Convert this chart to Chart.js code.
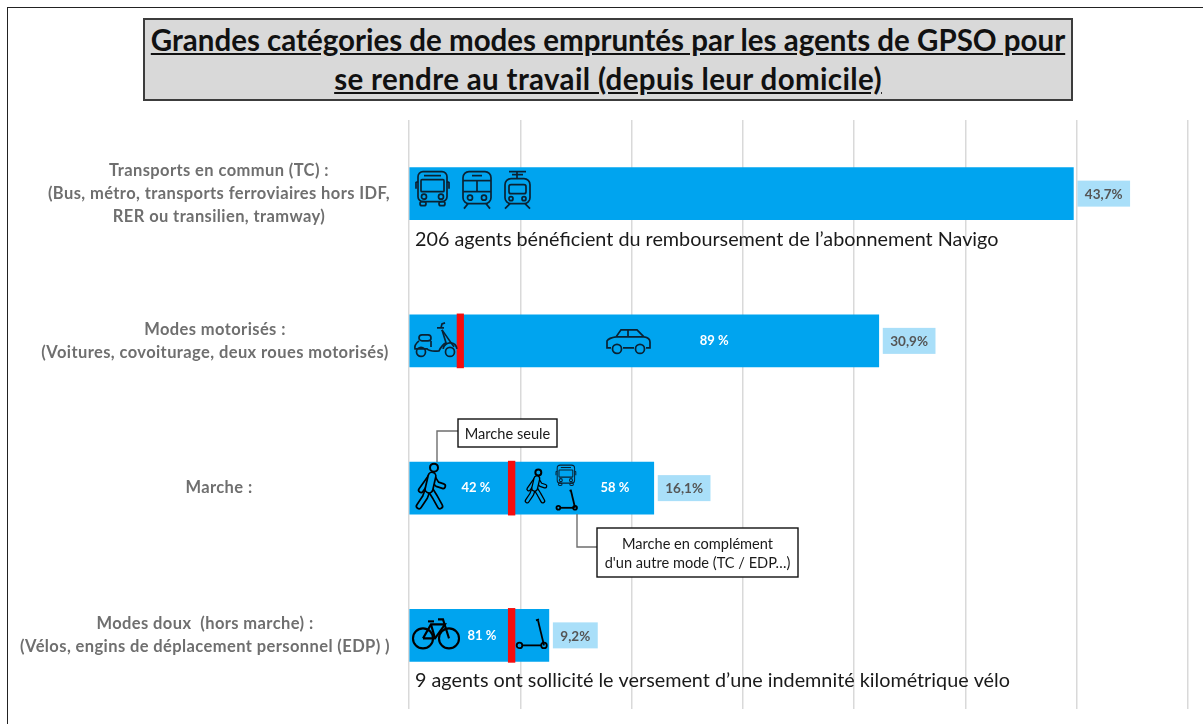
<!DOCTYPE html>
<html lang="fr">
<head>
<meta charset="utf-8">
<title>Modes empruntés par les agents de GPSO</title>
<script src="https://cdn.jsdelivr.net/npm/chart.js@4"></script>
<style>
	html, body { margin: 0; padding: 0; background: #fff; overflow: hidden; }
	#wrap { position: relative; width: 1203px; height: 724px; }
	#myChart { position: absolute; left: 0; top: 0; }
	#frame { position: absolute; left: 7px; top: 7px; width: 1300px; height: 800px; border: 1px solid #222; }
	#title {
		position: absolute; left: 143px; top: 18px; width: 926px; height: 79px;
		background: #d9d9d9; border: 2px solid #3c3c3c; color: #111;
		font: bold 29.5px/39px Lato, sans-serif; text-align: center; text-decoration: underline;
		white-space: nowrap;
	}
	#title span { letter-spacing: 0.35px; }
</style>
</head>
<body>
<div id="wrap">
	<canvas id="myChart" width="1203" height="724"></canvas>
	<div id="frame"></div>
	<div id="title">Grandes catégories de modes empruntés par les agents de GPSO pour<br><span>se rendre au travail (depuis leur domicile)</span></div>
</div>
<script>
const categories = [
	["Transports en commun (TC) :", "(Bus, métro, transports ferroviaires hors IDF,", "RER ou transilien, tramway)"],
	["Modes motorisés :", "(Voitures, covoiturage, deux roues motorisés)"],
	["Marche :"],
	["Modes doux  (hors marche) :", "(Vélos, engins de déplacement personnel (EDP) )"]
];
const shares = [43.7, 30.9, 16.1, 9.2];
const shareLabels = ["43,7%", "30,9%", "16,1%", "9,2%"];
const dividers = [null, [3.16, 3.59], [6.53, 6.97], [6.53, 6.97]];
const partLabels = [
	{ cat: 1, at: 20.07, text: "89 %" },
	{ cat: 2, at: 4.4, text: "42 %" },
	{ cat: 2, at: 13.55, text: "58 %" },
	{ cat: 3, at: 4.8, text: "81 %" }
];
const notes = [
	{ cat: 0, text: "206 agents bénéficient du remboursement de l’abonnement Navigo" },
	{ cat: 3, text: "9 agents ont sollicité le versement d’une indemnité kilométrique vélo" }
];
const labelCenters = [219, 215, 219, 205];

const BLUE = "#00a4ef";
const INK = "#0a2233";

function circle(c, x, y, r) {
	c.beginPath(); c.arc(x, y, r, 0, Math.PI * 2); c.stroke();
}
function poly(c, pts) {
	c.beginPath();
	pts.forEach((p, i) => i ? c.lineTo(p[0], p[1]) : c.moveTo(p[0], p[1]));
	c.stroke();
}
function rrect(c, x, y, w, h, r) {
	c.beginPath(); c.roundRect(x, y, w, h, r); c.stroke();
}

// little pictograms, local coordinates in px
function bus(c) {
	rrect(c, 2, 0, 29, 30, 5);
	rrect(c, 5, 8, 23, 12, 1);
	poly(c, [[8, 4], [25, 4]]);
	poly(c, [[2, 10], [0, 11], [0, 17]]);
	poly(c, [[31, 10], [33, 11], [33, 17]]);
	circle(c, 8, 25, 2.5); circle(c, 25, 25, 2.5);
	rrect(c, 4, 30, 6, 4, 2); rrect(c, 23, 30, 6, 4, 2);
}
function metro(c) {
	rrect(c, 0, 0, 28, 32, 6);
	poly(c, [[0, 9], [28, 9]]);
	poly(c, [[0, 20], [28, 20]]);
	poly(c, [[14, 9], [14, 20]]);
	poly(c, [[9, 4], [19, 4]]);
	circle(c, 7, 26, 2.5); circle(c, 21, 26, 2.5);
	poly(c, [[5, 32], [1, 37]]); poly(c, [[23, 32], [27, 37]]);
}
function tram(c) {
	poly(c, [[5, 1], [22, 1]]);
	poly(c, [[8, 4], [19, 4]]);
	poly(c, [[13, 1], [13, 8]]);
	rrect(c, 1, 8, 25, 25, 6);
	rrect(c, 5, 14, 17, 9, 2);
	circle(c, 7, 28, 2); circle(c, 20, 28, 2);
	poly(c, [[6, 33], [1, 38]]); poly(c, [[21, 33], [26, 38]]);
}
function moped(c) {
	c.lineWidth = 1.7;
	circle(c, 7, 29, 4.5); circle(c, 36, 29, 4.5);
	// rear body and seat
	rrect(c, 5, 12, 12, 6, 3);
	c.beginPath();
	c.moveTo(5, 18); c.quadraticCurveTo(0, 22, 1, 26); c.lineTo(13, 26);
	c.quadraticCurveTo(16, 29, 25, 28); c.quadraticCurveTo(28, 22, 32, 20);
	c.lineTo(28, 7);
	c.moveTo(17, 18); c.lineTo(17, 24);
	c.stroke();
	// shield and mudguard
	poly(c, [[28, 7], [35, 17], [40, 24]]);
	c.beginPath(); c.arc(36, 27, 7, Math.PI * 1.05, Math.PI * 1.95); c.stroke();
	// handle and mirror
	poly(c, [[23, 5], [30, 5]]);
	poly(c, [[27, 5], [28, 1], [31, 0]]);
}
function car(c) {
	c.beginPath();
	c.moveTo(5, 19); c.lineTo(1, 19); c.lineTo(1, 12); c.quadraticCurveTo(3, 9, 10, 8);
	c.lineTo(15, 1); c.lineTo(31, 1); c.lineTo(38, 8);
	c.quadraticCurveTo(44, 9, 44, 13); c.lineTo(44, 19); c.lineTo(40, 19);
	c.moveTo(17, 19); c.lineTo(28, 19);
	c.moveTo(10, 8); c.lineTo(38, 8);
	c.moveTo(22, 1); c.lineTo(22, 8);
	c.stroke();
	circle(c, 11, 20, 4.5); circle(c, 34, 20, 4.5);
}
function limb(c, pts, w) {
	c.lineCap = "round"; c.lineJoin = "round";
	c.strokeStyle = "#000"; c.lineWidth = w + 3.4; poly(c, pts);
	c.strokeStyle = BLUE; c.lineWidth = w; poly(c, pts);
}
function walker(c, k) {
	c.save();
	c.scale(k, k);
	c.strokeStyle = "#000"; c.lineWidth = 2 / k;
	circle(c, 18, 4.5, 4);
	limb(c, [[15, 13], [10, 20], [5, 27]], 3);
	limb(c, [[16, 13], [21, 21], [27, 23]], 3);
	limb(c, [[12, 26], [9, 34], [3, 43]], 3.4);
	limb(c, [[14, 26], [19, 34], [24, 43]], 3.4);
	limb(c, [[16, 13], [13, 26]], 6);
	c.restore();
}
function kick(c, k) {
	c.save();
	c.scale(k, k);
	c.strokeStyle = "#000";
	c.lineWidth = 1.8 / k;
	circle(c, 3.5, 26, 2.8); circle(c, 28, 26, 2.8);
	poly(c, [[6, 26], [25, 26]]);
	poly(c, [[28, 26], [22, 1]]);
	poly(c, [[20, 1], [23, 0]]);
	c.restore();
}
function bike(c) {
	c.strokeStyle = "#000";
	c.lineWidth = 2.1;
	circle(c, 11, 19, 10); circle(c, 37, 19, 10);
	poly(c, [[11, 19], [19, 5], [33, 5], [23, 19], [11, 19]]);
	poly(c, [[19, 5], [23, 19]]);
	poly(c, [[37, 19], [31, 0], [26, 0]]);
	poly(c, [[16, 2], [22, 2]]);
}

function at(c, x, y, fn) {
	c.save();
	c.translate(x, y);
	c.strokeStyle = INK; c.lineWidth = 1.7;
	fn(c);
	c.restore();
}

function callout(c, box, link, lines) {
	c.strokeStyle = "#6e6e6e"; c.lineWidth = 1.4;
	poly(c, link);
	c.fillStyle = "#fff"; c.strokeStyle = "#111"; c.lineWidth = 1.4;
	c.fillRect(box[0], box[1], box[2], box[3]);
	c.strokeRect(box[0], box[1], box[2], box[3]);
	c.fillStyle = "#1a1a1a"; c.font = "14.6px Lato, sans-serif";
	c.textAlign = "center"; c.textBaseline = "middle";
	const mid = box[1] + box[3] / 2;
	lines.forEach((t, i) => c.fillText(t, box[0] + box[2] / 2, mid + 1 + (i - (lines.length - 1) / 2) * 19));
}

const decorations = {
	id: "decorations",
	afterDatasetsDraw(chart) {
		const c = chart.ctx;
		const x = chart.scales.x, y = chart.scales.y;
		const cy = i => y.getPixelForValue(i);

		c.save();
		// category labels
		c.fillStyle = "#6f6f6f"; c.font = "bold 16.5px Lato, sans-serif";
		c.letterSpacing = "0.4px";
		c.textAlign = "center"; c.textBaseline = "middle";
		categories.forEach((lines, i) => {
			lines.forEach((t, j) => {
				c.fillText(t, labelCenters[i], cy(i) + (j - (lines.length - 1) / 2) * 23);
			});
		});
		c.letterSpacing = "0px";

		// value tags next to the bars
		c.font = "bold 13.5px Lato, sans-serif";
		shares.forEach((v, i) => {
			const left = x.getPixelForValue(v) + 4;
			const w = c.measureText(shareLabels[i]).width + 15;
			c.fillStyle = "#a9dff9";
			c.fillRect(left, cy(i) - 13, w, 26);
			c.fillStyle = "#555";
			c.fillText(shareLabels[i], left + w / 2, cy(i) + 1);
		});

		// percentages inside the bars
		c.fillStyle = "#fff"; c.font = "bold 13px Lato, sans-serif";
		partLabels.forEach(p => c.fillText(p.text, x.getPixelForValue(p.at), cy(p.cat)));

		// notes under the bars
		c.fillStyle = "#1a1a1a"; c.font = "19.8px Lato, sans-serif"; c.textAlign = "left";
		notes.forEach(n => c.fillText(n.text, x.getPixelForValue(0) + 6, cy(n.cat) + 45.5));

		// pictograms
		const x0 = x.getPixelForValue(0);
		at(c, x0 + 7, cy(0) - 22, bus);
		at(c, x0 + 54, cy(0) - 22, metro);
		at(c, x0 + 95, cy(0) - 23, tram);
		at(c, x0 + 5, cy(1) - 18, moped);
		at(c, x0 + 197, cy(1) - 12, car);
		at(c, x0 + 7, cy(2) - 25, g => walker(g, 1));
		at(c, x0 + 116, cy(2) - 19, g => walker(g, 0.74));
		at(c, x0 + 147, cy(2) - 23, g => { g.save(); g.scale(0.6, 0.6); bus(g); g.restore(); });
		at(c, x0 + 147, cy(2) + 2, g => kick(g, 0.68));
		at(c, x0 + 3, cy(3) - 16, bike);
		at(c, x0 + 107, cy(3) - 16, g => kick(g, 1));

		// callouts
		callout(c, [458, 419, 99, 28], [[437, 462], [437, 431], [458, 431]], ["Marche seule"]);
		callout(c, [597, 528, 201, 49], [[577, 514], [577, 547], [597, 547]], ["Marche en complément", "d'un autre mode (TC / EDP…)"]);
		c.restore();
	}
};

new Chart(document.getElementById("myChart"), {
	type: "bar",
	data: {
		labels: categories,
		datasets: [{
			label: "Part des agents",
			data: shares,
			backgroundColor: BLUE,
			barThickness: 52,
			order: 2
		}, {
			label: "Séparation",
			data: dividers,
			backgroundColor: "#f50d0d",
			barThickness: 54,
			order: 1
		}]
	},
	options: {
		indexAxis: "y",
		responsive: false,
		animation: false,
		layout: { padding: { left: 409, right: 15, top: 120, bottom: 15 } },
		datasets: { bar: { grouped: false } },
		plugins: {
			legend: { display: false },
			tooltip: { enabled: false }
		},
		scales: {
			x: {
				min: 0,
				max: 51.24,
				ticks: { display: false, stepSize: 7.32 },
				grid: { color: "#d9d9d9", lineWidth: 1.5, drawTicks: false },
				border: { display: false }
			},
			y: { display: false }
		}
	},
	plugins: [decorations]
});
</script>
</body>
</html>
